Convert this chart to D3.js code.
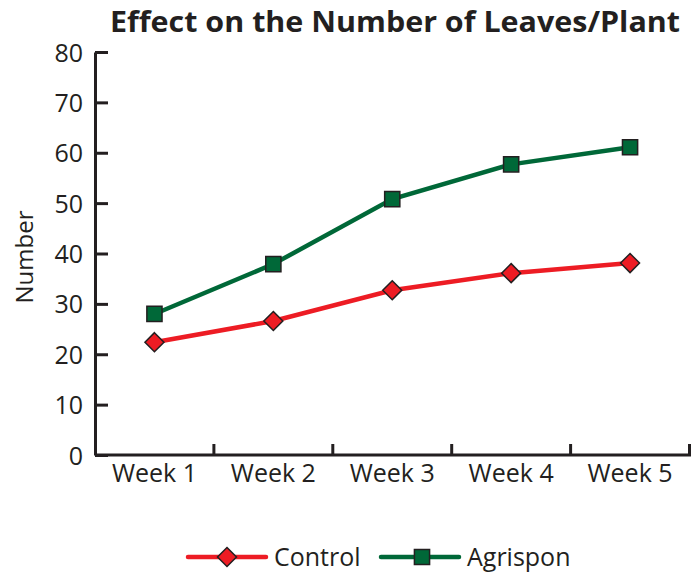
<!DOCTYPE html>
<html>
<head>
<meta charset="utf-8">
<script src="https://cdn.jsdelivr.net/npm/d3@7"></script>
<style>
  body { margin: 0; background: #fff; }
  svg text { font-family: "Open Sans", "Noto Sans", sans-serif; fill: #231f20; }
</style>
</head>
<body>
<div id="chart"></div>
<script>
// chart data
var weeks = ['Week 1', 'Week 2', 'Week 3', 'Week 4', 'Week 5'];
var control = [22.4, 26.6, 32.7, 36.1, 38.1];
var agrispon = [28.0, 37.9, 50.8, 57.7, 61.1];
var yTicks = [0, 10, 20, 30, 40, 50, 60, 70, 80];
var seriesNames = ['Control', 'Agrispon'];

var width = 700, height = 574;
var margins = {top: 52, right: 10, bottom: 119, left: 95};

var svg = d3.select('#chart').append('svg')
  .attr('width', width)
  .attr('height', height);

var x = d3.scaleBand().domain(weeks).range([margins.left, width - margins.right - 0.5]);
var y = d3.scaleLinear().domain([0, 80]).range([height - margins.bottom, margins.top]);

var ink = '#231f20';
var red = '#ed1c24';
var green = '#006838';

// title
svg.append('text')
  .attr('x', 395).attr('y', 32)
  .attr('text-anchor', 'middle')
  .style('font-size', '28px')
  .style('font-weight', 'bold')
  .attr('textLength', 570)
  .attr('lengthAdjust', 'spacingAndGlyphs')
  .text('Effect on the Number of Leaves/Plant');

// y axis
var yAxis = svg.append('g')
  .attr('transform', 'translate(' + margins.left + ',0)')
  .call(d3.axisRight(y).tickValues(yTicks).tickSize(13).tickSizeOuter(0).tickFormat(d3.format('d')));
yAxis.select('.domain').attr('stroke', ink).attr('stroke-width', 3);
yAxis.selectAll('.tick line').attr('stroke', ink).attr('stroke-width', 3);
yAxis.selectAll('.tick text')
  .attr('x', -12).attr('text-anchor', 'end').attr('dy', '0.36em')
  .style('font-size', '25px').attr('fill', ink);

// x axis, ticks at band edges pointing up
var xEdge = weeks.map(function (w) { return x(w); }).concat([x(weeks[weeks.length - 1]) + x.bandwidth()]);
var xg = svg.append('g');
xg.append('line')
  .attr('x1', margins.left).attr('x2', xEdge[xEdge.length - 1] + 1.5)
  .attr('y1', y(0)).attr('y2', y(0))
  .attr('stroke', ink).attr('stroke-width', 3);
xg.selectAll('.xtick').data(xEdge.slice(1)).enter().append('line')
  .attr('x1', function (d) { return d; }).attr('x2', function (d) { return d; })
  .attr('y1', y(0)).attr('y2', y(0) - 11)
  .attr('stroke', ink).attr('stroke-width', 3);
xg.selectAll('.xlabel').data(weeks).enter().append('text')
  .attr('x', function (d) { return x(d) + x.bandwidth() / 2; })
  .attr('y', y(0) + 27)
  .attr('text-anchor', 'middle')
  .style('font-size', '25px')
  .text(function (d) { return d; });

// y label
svg.append('text')
  .attr('transform', 'translate(33,257) rotate(-90)')
  .attr('text-anchor', 'middle')
  .style('font-size', '24px')
  .text('Number');

var cx = function (d, i) { return x(weeks[i]) + x.bandwidth() / 2; };
var line = d3.line().x(cx).y(function (d) { return y(d); });

function drawMarker (sel, type, color, size) {
  sel.append('path')
    .attr('d', d3.symbol().type(type).size(size))
    .attr('fill', color)
    .attr('stroke', ink)
    .attr('stroke-width', 1.5);
}

var series = [
  {name: seriesNames[0], values: control, color: red, shape: d3.symbolDiamond2, size: 230},
  {name: seriesNames[1], values: agrispon, color: green, shape: d3.symbolSquare, size: 230}
];

series.forEach(function (s) {
  svg.append('path')
    .datum(s.values)
    .attr('d', line)
    .attr('fill', 'none')
    .attr('stroke', s.color)
    .attr('stroke-width', 4.5);
  s.values.forEach(function (v, i) {
    var g = svg.append('g').attr('transform', 'translate(' + cx(v, i) + ',' + y(v) + ')');
    drawMarker(g, s.shape, s.color, s.size);
  });
});

// legend
var legendX = [188, 381];
series.forEach(function (s, i) {
  var g = svg.append('g').attr('transform', 'translate(' + legendX[i] + ',557)');
  g.append('line').attr('x1', 0).attr('x2', 78).attr('y1', 0).attr('y2', 0)
    .attr('stroke', s.color).attr('stroke-width', 4.5).attr('stroke-linecap', 'round');
  var m = g.append('g').attr('transform', 'translate(' + (i === 0 ? 39 : 41) + ',0)');
  drawMarker(m, s.shape, s.color, s.size);
  g.append('text').attr('x', 86).attr('y', 0).attr('dy', '0.36em')
    .style('font-size', '25px')
    .text(s.name);
});
</script>
</body>
</html>
